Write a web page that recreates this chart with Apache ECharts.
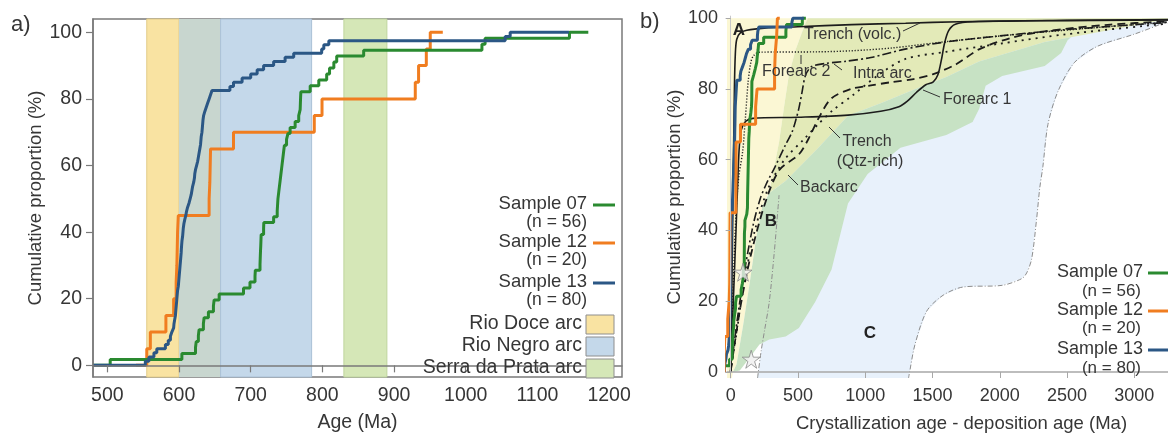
<!DOCTYPE html>
<html>
<head>
<meta charset="utf-8">
<script src="https://cdn.jsdelivr.net/npm/echarts@6/dist/echarts.min.js"></script>
<style>
  html, body { margin: 0; padding: 0; background: #ffffff; }
  #chart { width: 1168px; height: 438px; }
</style>
</head>
<body>
<div id="chart"></div>
<script>
// ---- Detrital zircon U-Pb ages (Ma), sorted, one entry per grain ----
const sample07Ages = [
  504, 604, 623, 624, 627, 628, 634, 635, 641, 648,
  649, 656, 690, 699, 706, 706.5, 713, 713.3, 713.6, 714,
  714.3, 714.6, 718, 718.3, 732, 737, 737.5, 738, 739, 740,
  741, 742, 743, 744, 745, 746, 747, 750, 752, 755,
  762, 767, 769, 769.3, 769.6, 770, 783, 795, 806, 810,
  816, 820, 857.6, 1022.6, 1027, 1144.7
];
const sample12Ages = [
  555, 560, 581.7, 592.5, 596, 597, 597.5, 598, 599, 642,
  643, 643.5, 644, 676, 788.7, 799.5, 929.6, 934.2, 945, 950.5
];
const sample13Ages = [
  553, 558, 565, 569, 581, 585, 588, 590, 592.5, 593,
  594, 595, 595.5, 596, 596.5, 597, 597.5, 598, 599, 599.5,
  600, 600.5, 601, 601.5, 602, 602.5, 603, 603.3, 603.7, 604.2,
  605, 605.5, 606, 606.8, 608, 609.5, 610.5, 612, 614, 615.5,
  617, 618, 619, 620.5, 621.5, 622, 623, 624.5, 626, 627,
  628, 629, 630, 630.5, 631, 632, 632.5, 633, 633.5, 634.3,
  636, 638, 640, 642, 644, 646, 671, 676, 688, 700,
  709, 718, 732, 748, 760, 799, 802, 809, 1055, 1062
];

// depositional age of each sample (Ma), used for crystallization - deposition age
const depositionAge = { s07: 612, s12: 603, s13: 600 };
// extent of each cumulative curve along the age axis (Ma)
const curveStart = { s07: 480, s12: 540, s13: 480 };
const curveEnd = { s07: 1171, s12: 968, s13: 1144 };

// magmatic arc age ranges (Ma)
const arcBands = [
  { name: 'Rio Doce arc', from: 555, to: 658, color: '#f9e3a2', edge: '#e2cc8a' },
  { name: 'Rio Negro arc', from: 600, to: 785, color: '#c4d8ea', edge: '#aac0d6' },
  { name: 'Serra da Prata arc', from: 830, to: 890, color: '#d5e7b7', edge: '#bfd59e' }
];
const bandOverlapColor = '#c8d6cf';

// tick values
const ageTicks = [500, 600, 700, 800, 900, 1000, 1100, 1200];
const proportionTicks = [0, 20, 40, 60, 80, 100];
const ageDiffTicks = [0, 500, 1000, 1500, 2000, 2500, 3000];

// tectonic setting fields (crystallization - deposition age in Ma, cumulative %)
const fieldC = [[200,-1.7],[227,6],[251,11.5],[287,19.8],[324,33.7],[360,50],[420,70],[480,88],[540,100.01],
  [3250,100.01],[3250,99.5],[3187,98.2],[2992,95.4],[2722,92],[2553,87.4],[2431,79.2],[2358,70],[2320,58],
  [2297,52],[2273,43],[2237,32],[2200,28],[2164,26.4],[2018,24.5],[1725,24],[1579,21.7],[1457,17.2],
  [1370,7.8],[1330,0],[1322,-1.7]];
const fieldA = [[-27,100.01],[575,100.01],[556,98.5],[482,91],[433,84],[397,75],[360,65],[324,58],[287,51],
  [238,47],[190,38],[141,25],[92,13],[44,2.2],[17,0],[10,-1.7],[-27,-1.7]];
const fieldConvergent = [[575,100.01],[3250,100.01],[3250,99.4],[3187,99.3],[2529,94.6],[2334,93.3],[2090,90.5],
  [1846,87.8],[1603,83.4],[1360,79.8],[1115,76],[872,72.4],[651,63.3],[409,54],[287,50.6],[324,58],[360,65],
  [397,75],[433,84],[482,91],[556,98.5]];
const fieldB = [[17,0],[44,2.2],[92,13],[141,25],[190,38],[238,47],[287,50.6],[409,54],[651,63.3],[872,72.4],
  [1115,76],[1360,79.8],[1603,83.4],[1846,87.8],[2090,90.5],[2334,93.3],[2529,94.6],[2504,93.8],[2456,90.2],
  [2334,86.5],[2018,83.7],[1895,80.9],[1847,74.4],[1798,70.7],[1603,67],[1262,63.4],[1018,56],[872,47.6],
  [750,29],[628,19.8],[507,12.4],[409,10],[287,9.2],[214,7.8],[141,4],[68,0.4]];
const fieldCLeftEdge = [[200,-1.7],[227,6],[251,11.5],[287,19.8],[324,33.7],[360,50]];
const fieldCRightEdge = [[3250,99.5],[3187,98.2],[2992,95.4],[2722,92],[2553,87.4],[2431,79.2],[2358,70],
  [2320,58],[2297,52],[2273,43],[2237,32],[2200,28],[2164,26.4],[2018,24.5],[1725,24],[1579,21.7],
  [1457,17.2],[1370,7.8],[1330,0],[1322,-1.7]];

// reference curves of modern basins
const trenchVolc = [[0,0],[8,20],[18,50],[28,80],[35,90],[45,94],[70,95.8],[120,96.6],[250,97.2],[500,97.6],
  [900,98.2],[1300,98.6],[1700,99],[2300,99.3],[3250,99.5]];
const forearc1 = [[0,0],[20,20],[40,40],[55,56],[65,64],[80,68.5],[110,70.8],[165,71.7],[500,72],[872,72.6],
  [1115,73.7],[1250,75],[1311,76.5],[1380,79],[1450,81.2],[1506,82],[1540,84],[1565,88],[1590,93],[1620,96.5],
  [1670,98.3],[1800,99],[2500,99.4],[3250,99.6]];
const forearc2 = [[0,0],[20,25],[40,45],[60,55],[90,62.5],[110,72],[130,82],[150,87.5],[170,89.4],[214,90.4],
  [651,90.5],[900,90.8],[1200,91.6],[1603,93.4],[2090,95.3],[2700,97.3],[3250,98.9]];
const intraArc = [[0,0],[50,15],[110,30],[170,42],[220,49],[263,53],[330,58],[409,64.3],[458,68],[490,72],
  [507,74.5],[531,79.2],[556,83.8],[600,86.3],[700,87.2],[850,87.8],[1042,88.9],[1287,91.2],[1600,93.3],
  [2000,95],[2500,96.8],[3250,98.8]];
const backarc = [[0,0],[30,8],[80,20],[150,33],[250,47],[360,57],[507,61.5],[580,66],[653,71.7],[748,77.3],
  [895,80],[1042,81],[1188,81.9],[1360,82.8],[1506,84.2],[1676,87],[1846,91.2],[2090,94.5],[2334,96.3],
  [2822,98.2],[3250,99.1]];
const trenchQtz = [[0,0],[40,10],[100,25],[180,40],[280,52],[400,60],[550,66],[650,70],[760,74],[900,78],
  [1100,84],[1300,88.5],[1600,90.5],[2000,92.8],[2500,95.5],[3250,98.5]];

// field marker stars
const starPoints = [[92, 28.2], [153, 3.6]];

// ---- helpers ----
const FONT = '"Liberation Sans", Arial, Helvetica, sans-serif';
const TEXT = '#363636';
const COL07 = '#2a8a30', COL12 = '#f07d20', COL13 = '#2b5785';

function cumulative(ages, start, end, shift) {
  const n = ages.length;
  const pts = [[start - shift, 0]];
  ages.forEach((a, i) => pts.push([a - shift, (i + 1) / n * 100]));
  pts.push([end - shift, 100]);
  return pts;
}

const ov0 = Math.max(arcBands[0].from, arcBands[1].from);
const ov1 = Math.min(arcBands[0].to, arcBands[1].to);
const bandAreas = [
  [{ xAxis: arcBands[0].from, itemStyle: { color: arcBands[0].color, borderColor: arcBands[0].edge, borderWidth: 1 } }, { xAxis: ov0 }],
  [{ xAxis: ov0, itemStyle: { color: bandOverlapColor, borderWidth: 0 } }, { xAxis: ov1 }],
  [{ xAxis: ov1, itemStyle: { color: arcBands[1].color, borderColor: arcBands[1].edge, borderWidth: 1 } }, { xAxis: arcBands[1].to }],
  [{ xAxis: arcBands[2].from, itemStyle: { color: arcBands[2].color, borderColor: arcBands[2].edge, borderWidth: 1 } }, { xAxis: arcBands[2].to }]
];

const fields = [
  { pts: fieldC, color: '#e8f1fb' },
  { pts: fieldA, color: '#fbf7d4' },
  { pts: fieldConvergent, color: '#e3eab8' },
  { pts: fieldB, color: '#c7e2c4' }
];

const samples = [
  { key: 's07', label: 'Sample 07', ages: sample07Ages, color: COL07 },
  { key: 's12', label: 'Sample 12', ages: sample12Ages, color: COL12 },
  { key: 's13', label: 'Sample 13', ages: sample13Ages, color: COL13 }
];

const series = [];
// panel a: arc bands
series.push({
  type: 'line', xAxisIndex: 0, yAxisIndex: 0, data: [], silent: true, z: 1,
  markArea: { silent: true, data: bandAreas }
});
// panel a: cumulative curves
[samples[1], samples[0], samples[2]].forEach(s => {
  series.push({
    type: 'line', xAxisIndex: 0, yAxisIndex: 0, step: 'end', showSymbol: false, silent: true, z: 3,
    lineStyle: { color: s.color, width: 3 },
    data: cumulative(s.ages, curveStart[s.key], curveEnd[s.key], 0)
  });
});
// panel b: setting fields
series.push({
  type: 'custom', xAxisIndex: 1, yAxisIndex: 1, silent: true, z: 1, clip: true,
  data: fields.map((f, i) => [i, 0]),
  renderItem: (params, api) => {
    const f = fields[params.dataIndex];
    return { type: 'polygon', shape: { points: f.pts.map(p => api.coord(p)) }, style: { fill: f.color, stroke: null } };
  }
});
[fieldCLeftEdge, fieldCRightEdge].forEach(edge => {
  series.push({
    type: 'line', xAxisIndex: 1, yAxisIndex: 1, showSymbol: false, silent: true, z: 2, smooth: 0.3,
    lineStyle: { color: '#8c8c8c', width: 1, type: [5, 2, 1, 2] }, data: edge
  });
});
// panel b: reference curves
[
  [trenchVolc, 'solid', 1.6],
  [forearc1, 'solid', 1.6],
  [forearc2, [1.2, 1.8], 1.4],
  [intraArc, [9, 3, 2, 3], 1.6],
  [backarc, [8, 5], 1.8],
  [trenchQtz, [2, 5], 1.8]
].forEach(([d, t, w]) => {
  series.push({
    type: 'line', xAxisIndex: 1, yAxisIndex: 1, showSymbol: false, silent: true, z: 3, smooth: 0.3,
    lineStyle: { color: '#1c1c1c', width: w, type: t }, data: d
  });
});
// panel b: samples
[samples[0], samples[2], samples[1]].forEach(s => {
  series.push({
    type: 'line', xAxisIndex: 1, yAxisIndex: 1, step: 'end', showSymbol: false, silent: true, z: 4,
    lineStyle: { color: s.color, width: 3 },
    data: cumulative(s.ages, curveStart[s.key], curveEnd[s.key], depositionAge[s.key])
  });
});
series.push({
  type: 'scatter', xAxisIndex: 1, yAxisIndex: 1, silent: true, z: 5,
  symbol: 'path://M50,0 L61,35 L98,35 L68,57 L79,91 L50,70 L21,91 L32,57 L2,35 L39,35 Z',
  symbolSize: 18,
  itemStyle: { color: '#efefef', borderColor: '#8a8a8a', borderWidth: 1 },
  data: starPoints
});

// ---- text and legends ----
function txt(text, x, y, size, align) {
  return {
    type: 'text', x: x, y: y, silent: true, z: 20,
    style: { text: text, fontSize: size, fontFamily: FONT, fill: TEXT, align: align || 'left', verticalAlign: 'middle' }
  };
}
function seg(x1, y1, x2, y2, color, w) {
  return { type: 'line', silent: true, z: 20, shape: { x1: x1, y1: y1, x2: x2, y2: y2 }, style: { stroke: color, lineWidth: w } };
}
const graphics = [];
graphics.push(txt('a)', 11, 25, 22));
graphics.push(txt('b)', 640, 22, 22));

const legendA = [[204, 222], [242, 260], [282, 300]];
samples.forEach((s, i) => {
  graphics.push(txt(s.label, 587, legendA[i][0], 18.5, 'right'));
  graphics.push(txt('(n = ' + s.ages.length + ')', 587, legendA[i][1], 17.5, 'right'));
  graphics.push(seg(593, legendA[i][0] + 1, 615, legendA[i][0] + 1, s.color, 3));
});
const arcRows = [324, 346, 368];
arcBands.forEach((b, i) => {
  graphics.push(txt(b.name, 582, arcRows[i], 19.5, 'right'));
  graphics.push({ type: 'rect', silent: true, z: 20, shape: { x: 586, y: arcRows[i] - 9, width: 28, height: 19 },
    style: { fill: b.color, stroke: '#8e8e8e', lineWidth: 1 } });
});

const legendB = [[272, 291], [310, 328], [349, 368]];
samples.forEach((s, i) => {
  graphics.push(txt(s.label, 1143, legendB[i][0], 18, 'right'));
  graphics.push(txt('(n = ' + s.ages.length + ')', 1141, legendB[i][1], 17, 'right'));
  graphics.push(seg(1148, legendB[i][0] + 1, 1170, legendB[i][0] + 1, s.color, 3));
});

// field letters and curve names
[['A', 739, 30], ['B', 771, 221], ['C', 870, 333]].forEach(([t, x, y]) => {
  const g = txt(t, x, y, 17, 'center');
  g.style.fontWeight = 'bold';
  g.style.fill = '#222';
  graphics.push(g);
});
graphics.push(txt('Trench (volc.)', 804, 35, 16));
graphics.push(txt('Forearc 2', 762, 72, 16));
graphics.push(txt('Intra arc', 853, 74, 16));
graphics.push(txt('Forearc 1', 943, 100, 16));
graphics.push(txt('Trench', 867, 142, 16, 'center'));
graphics.push(txt('(Qtz-rich)', 870, 162, 16, 'center'));
graphics.push(txt('Backarc', 800, 188, 16));
// leader lines
[
  [903, 31, 920, 23],
  [801, 64, 801, 55],
  [842, 70, 834, 64],
  [940, 97, 923, 90],
  [840, 138, 829, 127],
  [798, 185, 788, 175]
].forEach(l => graphics.push(seg(l[0], l[1], l[2], l[3], '#333', 1)));

const axisText = { color: TEXT, fontFamily: FONT };
const plain = v => String(v);

const option = {
  animation: false,
  backgroundColor: '#ffffff',
  grid: [
    { left: 93, top: 19, width: 529, height: 365, show: true, borderColor: '#7a7a7a', borderWidth: 1.5, backgroundColor: 'transparent' },
    { left: 727, top: 16.1, width: 448.3, height: 367.9 }
  ],
  xAxis: [
    {
      type: 'value', gridIndex: 0, min: 480, max: 1218, z: 6,
      name: 'Age (Ma)', nameLocation: 'middle', nameGap: 36,
      nameTextStyle: Object.assign({ fontSize: 19.5 }, axisText),
      axisLine: { show: true, lineStyle: { color: '#7a7a7a', width: 1.5 } },
      axisTick: { show: true, length: 7, customValues: ageTicks, lineStyle: { color: '#7a7a7a', width: 1.2 } },
      axisLabel: Object.assign({ customValues: ageTicks, fontSize: 19.5, margin: 9, formatter: plain }, axisText),
      splitLine: { show: false }
    },
    {
      type: 'value', gridIndex: 1, min: -27, max: 3250, z: 6,
      name: 'Crystallization age - deposition age (Ma)', nameLocation: 'middle', nameGap: 36,
      nameTextStyle: Object.assign({ fontSize: 18.5, padding: [0, 0, 0, 28] }, axisText),
      axisLine: { show: true, lineStyle: { color: '#a8a8a8', width: 1.5 } },
      axisTick: { show: true, length: 6, customValues: ageDiffTicks, lineStyle: { color: '#a8a8a8', width: 1 } },
      axisLabel: Object.assign({ customValues: ageDiffTicks, fontSize: 18, margin: 9, formatter: plain }, axisText),
      splitLine: { show: false }
    }
  ],
  yAxis: [
    {
      type: 'value', gridIndex: 0, min: -3.5, max: 104, z: 6,
      name: 'Cumulative proportion (%)', nameLocation: 'middle', nameGap: 46,
      nameTextStyle: Object.assign({ fontSize: 18.5 }, axisText),
      axisLine: { show: true, lineStyle: { color: '#7a7a7a', width: 1.5 } },
      axisTick: { show: true, length: 7, customValues: proportionTicks, lineStyle: { color: '#7a7a7a', width: 1.2 } },
      axisLabel: Object.assign({ customValues: proportionTicks, fontSize: 19.5, margin: 11, formatter: plain }, axisText),
      splitLine: { show: false }
    },
    {
      type: 'value', gridIndex: 1, min: -1.7, max: 100.6, z: 6,
      name: 'Cumulative proportion (%)', nameLocation: 'middle', nameGap: 42,
      nameTextStyle: Object.assign({ fontSize: 18.5 }, axisText),
      axisLine: { show: true, lineStyle: { color: '#c8c8c8', width: 1 } },
      axisTick: { show: true, length: 5, customValues: proportionTicks, lineStyle: { color: '#a8a8a8', width: 1 } },
      axisLabel: Object.assign({ customValues: proportionTicks, fontSize: 18, margin: 9, formatter: plain }, axisText),
      splitLine: { show: false }
    }
  ],
  series: series,
  graphic: graphics
};

const chart = echarts.init(document.getElementById('chart'), null, { renderer: 'canvas' });
chart.setOption(option);
</script>
</body>
</html>
